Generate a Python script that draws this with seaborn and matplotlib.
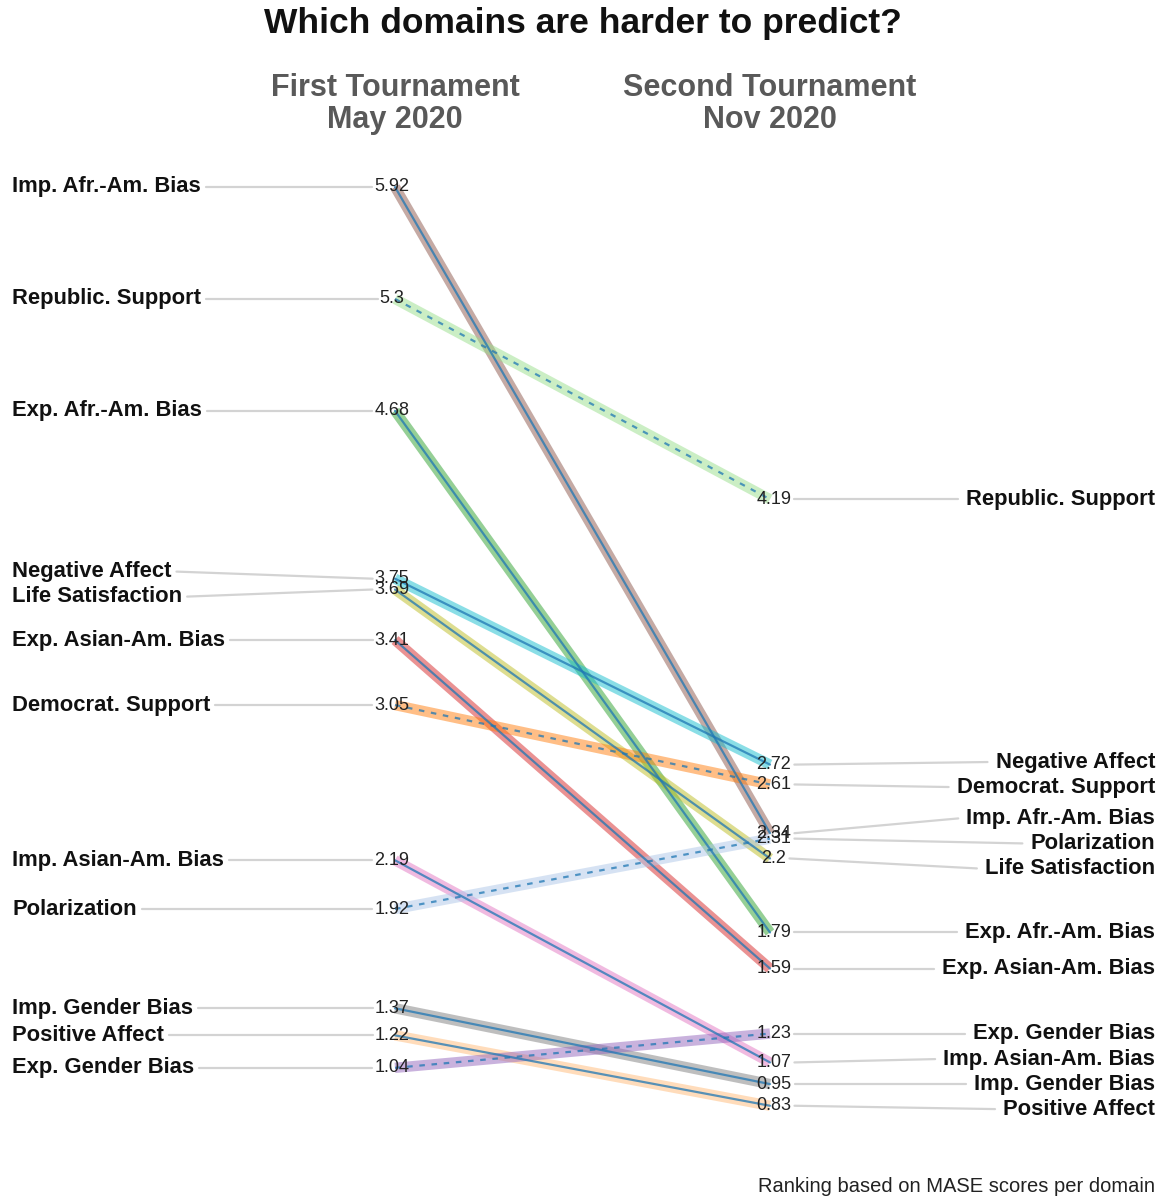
import numpy as np
import pandas as pd
import matplotlib
matplotlib.use('Agg')
import matplotlib.pyplot as plt
import matplotlib.transforms as mtrans
import seaborn as sns

# MASE score per domain, first (May 2020) and second (Nov 2020) tournament
domains = ['Imp. Afr.-Am. Bias', 'Republic. Support', 'Exp. Afr.-Am. Bias',
           'Negative Affect', 'Life Satisfaction', 'Exp. Asian-Am. Bias',
           'Democrat. Support', 'Imp. Asian-Am. Bias', 'Polarization',
           'Imp. Gender Bias', 'Positive Affect', 'Exp. Gender Bias']
first_tourn = [5.92, 5.3, 4.68, 3.75, 3.69, 3.41, 3.05, 2.19, 1.92, 1.37, 1.22, 1.04]
second_tourn = [2.34, 4.19, 1.79, 2.72, 2.2, 1.59, 2.61, 1.07, 2.31, 0.95, 0.83, 1.23]
dashed = ['Republic. Support', 'Democrat. Support', 'Polarization', 'Exp. Gender Bias']
round_names = ['First Tournament\nMay 2020', 'Second Tournament\nNov 2020']

colors = {
    'Imp. Afr.-Am. Bias': '#8c564b', 'Republic. Support': '#98df8a',
    'Exp. Afr.-Am. Bias': '#2ca02c', 'Negative Affect': '#17becf',
    'Life Satisfaction': '#bcbd22', 'Exp. Asian-Am. Bias': '#d62728',
    'Democrat. Support': '#ff7f0e', 'Imp. Asian-Am. Bias': '#e377c2',
    'Polarization': '#aec7e8', 'Imp. Gender Bias': '#7f7f7f',
    'Positive Affect': '#ffbb78', 'Exp. Gender Bias': '#9467bd',
}

# long format table for seaborn
df = pd.DataFrame({
    'domain': domains * 2,
    'round': [0] * len(domains) + [1] * len(domains),
    'mase': first_tourn + second_tourn,
})
df['kind'] = np.where(df['domain'].isin(dashed), 'dashed', 'solid')

sns.set_style('white')
plt.rcParams['font.family'] = ['Liberation Sans', 'DejaVu Sans']

W, H = 1166, 1196
fig = plt.figure(figsize=(W / 100, H / 100), dpi=100)
ax = fig.add_axes([0, 0, 1, 1])
ax.set_xlim(-1.0533, 2.056)
ax.set_ylim(0.330, 6.956)
ax.axis('off')

# wide translucent band per domain
sns.lineplot(data=df, x='round', y='mase', hue='domain', palette=colors,
             units='domain', estimator=None, linewidth=7.5, alpha=0.5,
             legend=False, ax=ax, solid_capstyle='butt')
# thin blue line on top, dashed for political domains
sns.lineplot(data=df, x='round', y='mase', style='kind', units='domain',
             estimator=None, dashes={'solid': '', 'dashed': (2.5, 3)},
             color='#1f77b4', linewidth=1.6, alpha=0.75, legend=False, ax=ax)


def spread(vals, gap):
    """Spread label positions so neighbours are at least `gap` apart."""
    order = list(np.argsort(vals)[::-1])
    groups = [[i] for i in order]
    changed = True
    while changed:
        changed = False
        pos = []
        for g in groups:
            m = np.mean([vals[i] for i in g])
            pos.append([m + gap * ((len(g) - 1) / 2 - k) for k in range(len(g))])
        for j in range(len(groups) - 1):
            if pos[j][-1] - pos[j + 1][0] < gap - 1e-9:
                groups[j] = groups[j] + groups[j + 1]
                del groups[j + 1]
                changed = True
                break
    out = np.zeros(len(vals))
    for g in groups:
        m = np.mean([vals[i] for i in g])
        for k, i in enumerate(g):
            out[i] = m + gap * ((len(g) - 1) / 2 - k)
    return out


gap = 0.1385
left_pos = spread(first_tourn, gap)
right_pos = spread(second_tourn, gap)

blend = mtrans.blended_transform_factory(ax.transAxes, ax.transData)
name_kw = dict(fontsize=15.8, fontweight='bold', color='#111111', va='center', transform=blend)
val_kw = dict(fontsize=13, color='#222222', va='center', ha='center', zorder=10)
# value labels sit a few pixels outside the line ends
left_off = mtrans.offset_copy(ax.transData, fig=fig, x=-3, y=0, units='dots')
right_off = mtrans.offset_copy(ax.transData, fig=fig, x=4, y=0, units='dots')

left_names, left_vals, right_names, right_vals = [], [], [], []
for i, d in enumerate(domains):
    left_names.append(ax.text(12 / W, left_pos[i], d, ha='left', **name_kw))
    right_names.append(ax.text(1155 / W, right_pos[i], d, ha='right', **name_kw))
    left_vals.append(ax.text(0, first_tourn[i], f'{first_tourn[i]:g}',
                             transform=left_off, **val_kw))
    right_vals.append(ax.text(1, second_tourn[i], f'{second_tourn[i]:g}',
                              transform=right_off, **val_kw))

fig.canvas.draw()
r = fig.canvas.get_renderer()
inv = ax.transData.inverted()


def xdata(px):
    return inv.transform((px, 0))[0]


for i in range(len(domains)):
    nb = left_names[i].get_window_extent(r)
    vb = left_vals[i].get_window_extent(r)
    ax.plot([xdata(nb.x1 + 5), xdata(vb.x0 - 2)], [left_pos[i], first_tourn[i]],
            color='#d3d3d3', lw=1.6, zorder=1)
    nb = right_names[i].get_window_extent(r)
    vb = right_vals[i].get_window_extent(r)
    ax.plot([xdata(vb.x1 + 3), xdata(nb.x0 - 8)], [second_tourn[i], right_pos[i]],
            color='#d3d3d3', lw=1.6, zorder=1)

# column headers
hdr = mtrans.blended_transform_factory(ax.transData, fig.transFigure)
for x, name in enumerate(round_names):
    ax.text(x, 1 - 104 / H, name, transform=hdr, ha='center', va='center',
            fontsize=22, fontweight='bold', color='#595959', linespacing=1.07)

fig.text(0.5, 1 - 23 / H, 'Which domains are harder to predict?', ha='center', va='center',
         fontsize=25.5, fontweight='bold', color='#111111')
fig.text(1155 / W, 1 - 1186 / H, 'Ranking based on MASE scores per domain',
         ha='right', va='center', fontsize=14.5, color='#222222')

fig.savefig('out.png', dpi=100, facecolor='white')
